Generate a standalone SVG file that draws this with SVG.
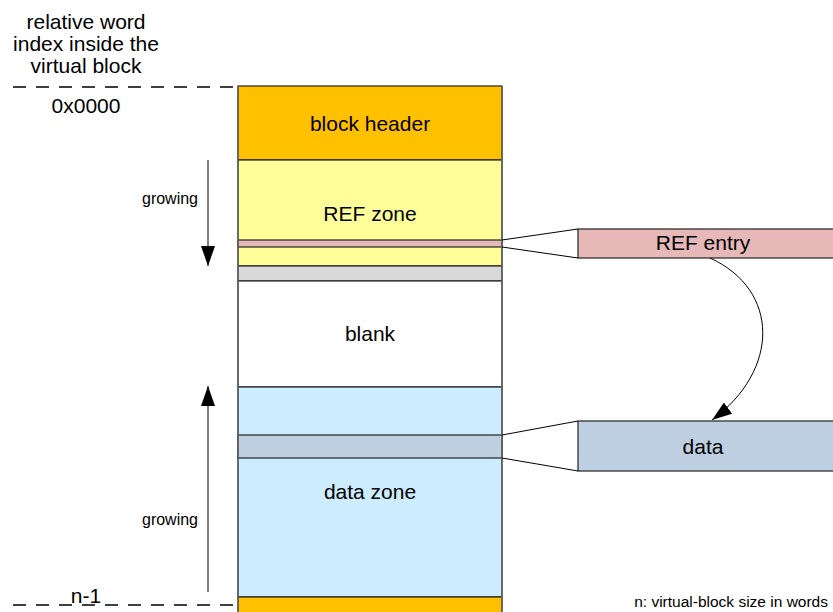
<svg xmlns="http://www.w3.org/2000/svg" width="833" height="612" viewBox="0 0 833 612">
<defs>
<marker id="ah2" viewBox="0 0 20 14" refX="20" refY="7" markerWidth="20" markerHeight="14" markerUnits="userSpaceOnUse" orient="auto">
<path d="M0,0 L20,7 L0,14 Z" fill="#000"/>
</marker>
</defs>
<style>
text{font-family:"Liberation Sans",Arial,sans-serif;fill:#000}
.lbl{font-size:21px;text-anchor:middle}
.sm{font-size:16px;text-anchor:middle}
.cell{stroke:#222;stroke-width:1.2}
.dash{stroke:#000;stroke-width:1.5;stroke-dasharray:13 10;fill:none}
.ln{stroke:#000;stroke-width:1;fill:none}
</style>
<rect width="833" height="612" fill="#fff"/>
<g id="caption">
<text class="lbl" x="86" y="29">relative word</text>
<text class="lbl" x="86" y="51">index inside the</text>
<text class="lbl" x="86" y="73">virtual block</text>
<text class="lbl" x="86" y="113">0x0000</text>
<text class="lbl" x="86" y="603">n-1</text>
<text x="828" y="607" font-size="15.5" text-anchor="end">n: virtual-block size in words</text>
</g>
<g id="dashes">
<line class="dash" x1="13" y1="87" x2="236" y2="87"/>
<line class="dash" x1="13" y1="605" x2="236" y2="605"/>
</g>
<g id="block-header"><rect class="cell" x="238" y="86" width="264" height="74" fill="#FFC000"/><text class="lbl" x="370" y="131">block header</text></g>
<g id="ref-zone"><rect class="cell" x="238" y="160" width="264" height="106" fill="#FFFF99"/><text class="lbl" x="370" y="221">REF zone</text></g>
<g id="ref-stripe"><rect class="cell" x="238" y="240" width="264" height="7" fill="#E6B8B7"/></g>
<g id="gray-stripe"><rect class="cell" x="238" y="266" width="264" height="15" fill="#D9D9D9"/></g>
<g id="blank"><rect class="cell" x="238" y="281" width="264" height="106" fill="#fff"/><text class="lbl" x="370" y="341">blank</text></g>
<g id="data-zone"><rect class="cell" x="238" y="387" width="264" height="210" fill="#CCECFF"/><text class="lbl" x="370" y="499">data zone</text></g>
<g id="data-stripe"><rect class="cell" x="238" y="435" width="264" height="23" fill="#BDCFE1"/></g>
<g id="block-footer"><rect class="cell" x="238" y="597" width="264" height="20" fill="#FFC000"/></g>
<g id="column-outline"><line x1="238" y1="86" x2="238" y2="612" stroke="#666" stroke-width="1.5"/><line x1="502" y1="86" x2="502" y2="612" stroke="#666" stroke-width="1.5"/></g>
<g id="ref-entry"><rect class="cell" x="578" y="229" width="260" height="29" fill="#E6B8B7"/><text class="lbl" x="703" y="250">REF entry</text></g>
<g id="data"><rect class="cell" x="578" y="421" width="260" height="50" fill="#BDCFE1"/><text class="lbl" x="703" y="454">data</text></g>
<g id="connectors">
<line class="ln" x1="502" y1="240" x2="578" y2="229"/>
<line class="ln" x1="502" y1="247" x2="578" y2="258"/>
<line class="ln" x1="502" y1="435" x2="578" y2="421"/>
<line class="ln" x1="502" y1="458" x2="578" y2="471"/>
<path class="ln" d="M710,258 C780,290 780,370 712,420" marker-end="url(#ah2)"/>
<line class="ln" x1="208" y1="160" x2="208" y2="266" marker-end="url(#ah2)"/>
<line class="ln" x1="208" y1="592" x2="208" y2="386" marker-end="url(#ah2)"/>
<text class="sm" x="170" y="204">growing</text>
<text class="sm" x="170" y="525">growing</text>
</g>
</svg>
